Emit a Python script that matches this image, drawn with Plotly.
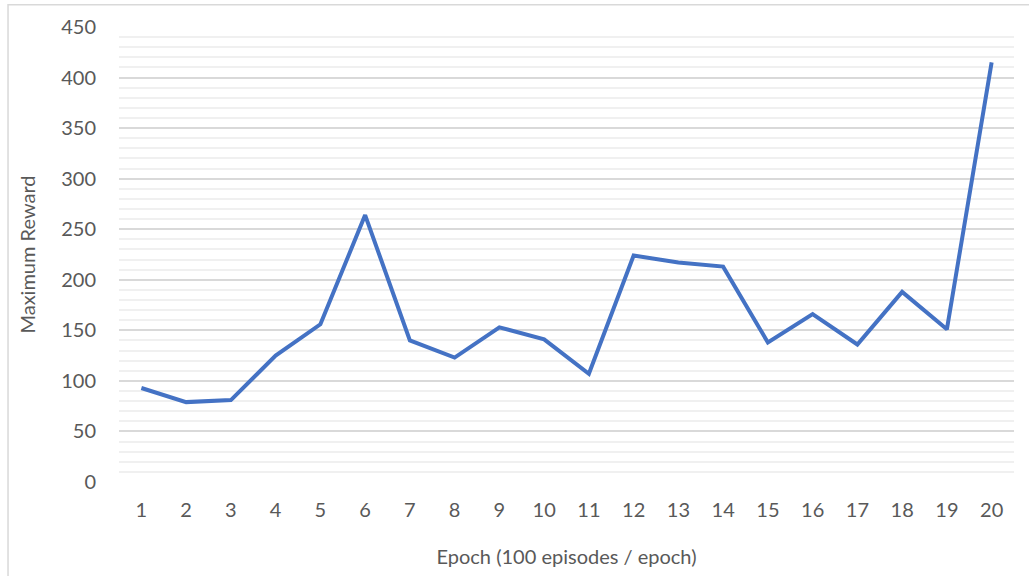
import plotly.graph_objects as go

# Maximum reward per training epoch
epochs = list(range(1, 21))
max_reward = [93, 79, 81, 125, 156, 264, 140, 123, 153, 141,
              107, 224, 217, 213, 138, 166, 136, 188, 151, 415]

x_title = "Epoch (100 episodes / epoch)"
y_title = "Maximum Reward"

FONT = "Lato"
TEXT_COLOR = "#595959"

fig = go.Figure()
fig.add_trace(go.Scatter(
    x=epochs,
    y=max_reward,
    mode="lines",
    line=dict(color="#4472C4", width=4),
    hoverinfo="x+y",
))

# light chart-area frame
fig.add_shape(
    type="rect", xref="paper", yref="paper",
    x0=-0.124, x1=1.2, y0=-0.4, y1=1.049,
    line=dict(color="#d9d9d9", width=1.5),
    fillcolor="rgba(0,0,0,0)", layer="below",
)

fig.update_layout(
    width=1029,
    height=576,
    margin=dict(l=119, r=15, t=27, b=94),
    paper_bgcolor="white",
    plot_bgcolor="white",
    showlegend=False,
    font=dict(family=FONT, size=20, color=TEXT_COLOR),
    xaxis=dict(
        range=[0.5, 20.5],
        tickmode="array",
        tickvals=epochs,
        ticktext=[str(e) for e in epochs],
        showgrid=False,
        zeroline=False,
        showline=False,
        ticks="outside",
        ticklen=10,
        tickcolor="rgba(0,0,0,0)",
        tickfont=dict(family=FONT, size=20, color=TEXT_COLOR),
        title=dict(text=x_title, standoff=29,
                   font=dict(family=FONT, size=20, color=TEXT_COLOR)),
    ),
    yaxis=dict(
        range=[0, 450],
        tickmode="linear",
        tick0=0,
        dtick=50,
        showgrid=True,
        gridcolor="#d9d9d9",
        gridwidth=1.5,
        zeroline=False,
        showline=False,
        ticks="outside",
        ticklen=18,
        tickcolor="rgba(0,0,0,0)",
        tickfont=dict(family=FONT, size=20, color=TEXT_COLOR),
        minor=dict(dtick=10, showgrid=True, gridcolor="#f0f0f0", gridwidth=1.5),
        title=dict(text=y_title, standoff=20,
                   font=dict(family=FONT, size=20, color=TEXT_COLOR)),
    ),
)

fig.write_html("out.html")
